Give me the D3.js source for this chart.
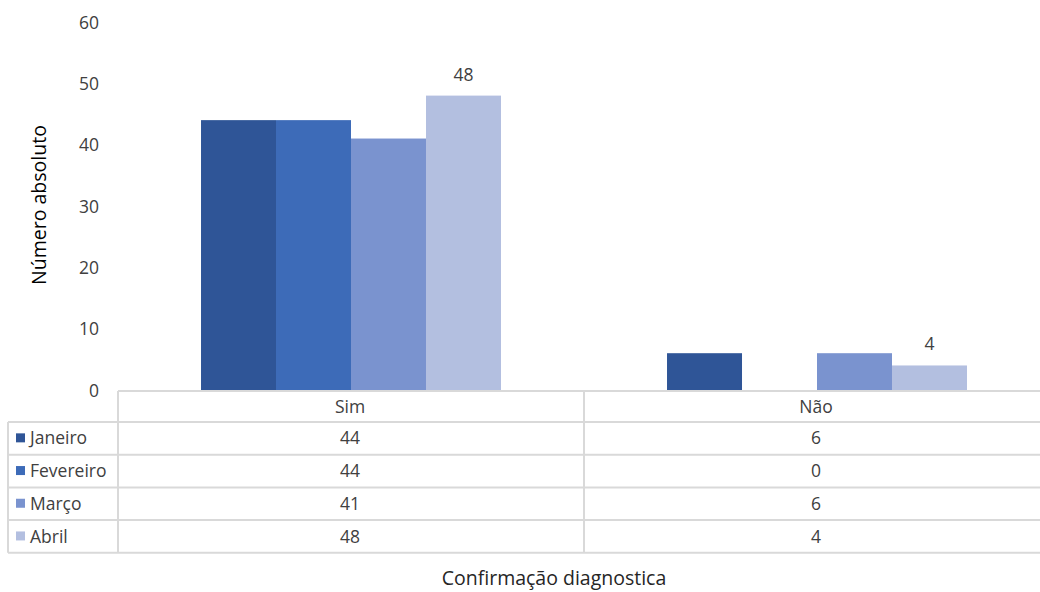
<!DOCTYPE html>
<html><head><meta charset="utf-8">
<script src="https://cdn.jsdelivr.net/npm/d3@7"></script>
<style>body{margin:0;background:#fff}svg{display:block}text{font-family:"Open Sans","Noto Sans",sans-serif;fill:#404040}</style>
</head><body><svg id="c" width="1040" height="592"></svg>
<script>
const categories = ["Sim", "Não"];
const seriesNames = ["Janeiro", "Fevereiro", "Março", "Abril"];
const janeiro = [44, 6];
const fevereiro = [44, 0];
const marco = [41, 6];
const abril = [48, 4];
const yTicks = [0, 10, 20, 30, 40, 50, 60];
const colors = ["#2f5597", "#3d6bb8", "#7a93cf", "#b3bfe0"];

const values = [janeiro, fevereiro, marco, abril];
const FS = "17.5px";
const svg = d3.select("#c");
const y = d3.scaleLinear().domain([0, 60]).range([390, 22]);
const x = d3.scaleBand().domain(categories).range([118, 1050]).padding(0);
const xs = d3.scaleBand().domain(seriesNames).range([0, x.bandwidth()]).paddingInner(0).paddingOuter(1.107);

// y axis labels
const yAxis = d3.axisLeft(y).tickValues(yTicks).tickSize(0).tickPadding(0);
const ga = svg.append("g").attr("transform", "translate(99,0)").call(yAxis);
ga.select(".domain").remove();
ga.attr("font-family", null).attr("font-size", null);
ga.selectAll("text").style("font-size", FS).style("fill", "#404040").attr("dy", "0.35em");

// bars
seriesNames.forEach((s, si) => {
  svg.append("g").selectAll("rect").data(categories).join("rect")
    .attr("x", c => x(c) + xs(s))
    .attr("width", xs.bandwidth())
    .attr("y", (c, ci) => y(values[si][ci]))
    .attr("height", (c, ci) => y(0) - y(values[si][ci]))
    .attr("fill", colors[si]);
});
// data labels for Abril
svg.append("g").selectAll("text").data(categories).join("text")
  .attr("x", c => x(c) + xs("Abril") + xs.bandwidth() / 2)
  .attr("y", (c, ci) => y(abril[ci]) - 15)
  .attr("text-anchor", "middle").style("font-size", FS)
  .text((c, ci) => abril[ci]);

// table
const lc = "#d9d9d9";
const rowTop = 391, headH = 31, rowH = 32.7;
const tbl = svg.append("g").attr("stroke", lc).attr("stroke-width", 2);
tbl.append("line").attr("x1", 118).attr("x2", 1040).attr("y1", rowTop).attr("y2", rowTop);
const bottom = rowTop + headH + rowH * 4;
for (let i = 0; i <= 4; i++) {
  const yy = rowTop + headH + rowH * i;
  tbl.append("line").attr("x1", 8).attr("x2", 1040).attr("y1", yy).attr("y2", yy);
}
tbl.append("line").attr("x1", 118).attr("x2", 118).attr("y1", rowTop).attr("y2", bottom);
tbl.append("line").attr("x1", 8).attr("x2", 8).attr("y1", rowTop + headH).attr("y2", bottom);
tbl.append("line").attr("x1", x("Não")).attr("x2", x("Não")).attr("y1", rowTop).attr("y2", bottom);

// header
svg.append("g").selectAll("text").data(categories).join("text")
  .attr("x", c => x(c) + x.bandwidth() / 2 - 1)
  .attr("y", rowTop + headH / 2).attr("dy", "0.35em")
  .attr("text-anchor", "middle").style("font-size", FS).text(c => c);
// rows
seriesNames.forEach((s, si) => {
  const cy = rowTop + headH + rowH * si + rowH / 2;
  svg.append("rect").attr("x", 16).attr("y", cy - 5).attr("width", 9).attr("height", 9).attr("fill", colors[si]);
  svg.append("text").attr("x", 30).attr("y", cy).attr("dy", "0.35em").style("font-size", FS).text(s);
  svg.append("g").selectAll("text").data(categories).join("text")
    .attr("x", c => x(c) + x.bandwidth() / 2 - 1)
    .attr("y", cy).attr("dy", "0.35em").attr("text-anchor", "middle").style("font-size", FS)
    .text((c, ci) => values[si][ci]);
});

// titles
svg.append("text").attr("transform", "translate(46,205) rotate(-90)").attr("text-anchor", "middle")
  .style("font-size", "19.5px").style("fill", "#000").text("Número absoluto");
svg.append("text").attr("x", 554).attr("y", 585).attr("text-anchor", "middle")
  .style("font-size", "19.5px").style("fill", "#262626").text("Confirmação diagnostica");
</script></body></html>
